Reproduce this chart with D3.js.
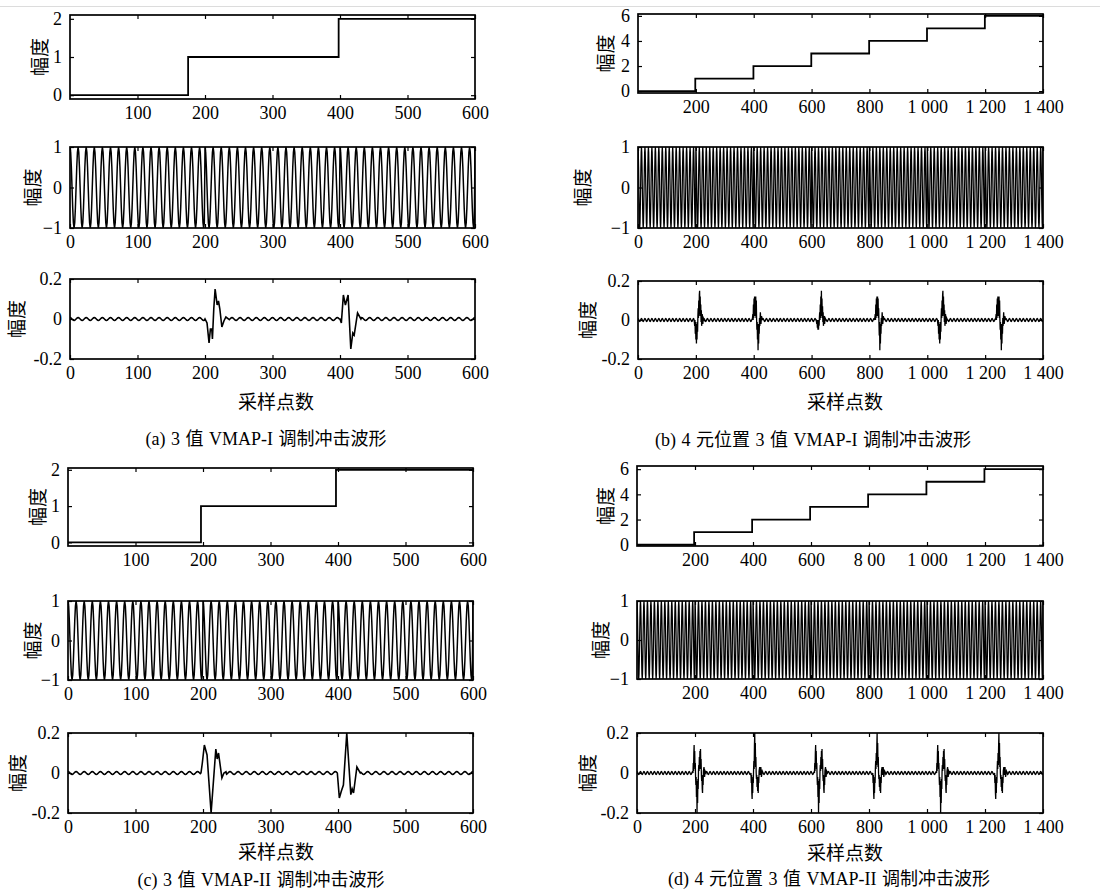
<!DOCTYPE html>
<html>
<head>
<meta charset="utf-8">
<script src="https://cdn.jsdelivr.net/npm/d3@7"></script>
<style>
  body { margin: 0; background: #fff; }
  svg { display: block; }
</style>
</head>
<body>
<svg id="chart" width="1100" height="892"></svg>
<script>
// ---- tick values / labels ----
var xTicks600 = [0, 100, 200, 300, 400, 500, 600];
var xLabels600 = ["0", "100", "200", "300", "400", "500", "600"];
var xTicks1400 = [0, 200, 400, 600, 800, 1000, 1200, 1400];
var xLabels1400 = ["0", "200", "400", "600", "800", "1 000", "1 200", "1 400"];
var xLabels1400d = ["0", "200", "400", "600", "8 00", "1 000", "1 200", "1 400"]; // printed this way in (d)
var yTicksStep3 = [0, 1, 2];
var yTicksStep7 = [0, 2, 4, 6];
var yTicksCarrier = [-1, 0, 1];
var yLabelsCarrier = ["\u22121", "0", "1"];
var yTicksImpulse = [-0.2, 0, 0.2];
var yLabelsImpulse = ["-0.2", "0", "0.2"];

// ---- row 1: symbol levels ----
var stepEdgesA = [0, 175, 398, 600], stepLevelsA = [0, 1, 2];
var stepEdgesB = [0, 198, 399, 599, 799, 999, 1199, 1400], stepLevelsB = [0, 1, 2, 3, 4, 5, 6];
var stepEdgesC = [0, 197, 397, 600], stepLevelsC = [0, 1, 2];
var stepEdgesD = [0, 197, 397, 597, 797, 998, 1198, 1400], stepLevelsD = [0, 1, 2, 3, 4, 5, 6];

// ---- row 2: carrier, one period, restarted at each symbol ----
var carrierCycle = [1, 0.87, 0.5, 0, -0.5, -0.87, -1, -0.87, -0.5, 0, 0.5, 0.87];
var symbolEdges600 = [0, 200, 400, 600];
var symbolEdges1400 = [0, 200, 400, 600, 800, 1000, 1200, 1400];

// ---- row 3: impulse output, small ripple + bursts [sample, value] ----
var rippleAmp = 0.007;
var burstsA = [
  [[200, 0], [203, -0.02], [206, -0.12], [208, -0.05], [210, -0.05], [211, -0.1], [213, 0.05], [215, 0.15], [218, 0.07], [220, 0.09], [222, 0.05], [225, -0.04], [228, -0.01], [231, 0.01], [235, 0]],
  [[400, 0], [402, -0.02], [405, 0.12], [408, 0.07], [412, 0.12], [416, -0.15], [419, -0.07], [421, -0.08], [426, 0.03], [431, 0]]
];
var burstsB = [
  [[194, 0], [196, -0.03], [197, 0], [198, -0.07], [199, -0.01], [200, -0.1], [201, -0.02], [202, -0.12], [203, -0.03], [204, -0.1], [205, -0.01], [206, -0.06], [207, 0.02], [208, 0.06], [209, 0.01], [210, 0.1], [211, 0.02], [212, 0.13], [213, 0.15], [214, 0.03], [215, 0.12], [216, 0.02], [217, 0.08], [218, -0.01], [219, 0.05], [220, -0.03], [222, 0.03], [224, -0.02], [226, 0.01], [229, 0]],
  [[395, 0], [397, 0.03], [398, 0], [399, 0.08], [400, 0.01], [401, 0.11], [402, 0.02], [403, 0.12], [404, 0.03], [405, 0.12], [406, 0.02], [407, 0.12], [408, 0.01], [409, 0.1], [410, 0], [411, -0.05], [412, -0.01], [413, -0.1], [414, -0.02], [415, -0.155], [416, -0.03], [417, -0.12], [418, -0.02], [419, -0.07], [420, 0.01], [421, -0.03], [423, 0.04], [425, -0.02], [427, 0.02], [430, 0]],
  [[616, 0], [618, -0.02], [619, 0], [620, -0.04], [621, 0], [622, -0.05], [623, -0.01], [624, -0.05], [625, 0], [626, -0.03], [627, 0.01], [628, 0.04], [629, 0], [630, 0.08], [631, 0.01], [632, 0.12], [633, 0.02], [634, 0.15], [635, 0.02], [636, 0.11], [637, 0.01], [638, 0.07], [639, -0.01], [640, 0.04], [641, -0.03], [643, 0.02], [645, -0.02], [647, 0.01], [650, 0]],
  [[818, 0], [820, 0.03], [821, 0], [822, 0.08], [823, 0.01], [824, 0.11], [825, 0.02], [826, 0.12], [827, 0.03], [828, 0.12], [829, 0.02], [830, 0.11], [831, 0.01], [832, 0.06], [833, -0.02], [834, -0.08], [835, -0.01], [836, -0.155], [837, -0.03], [838, -0.12], [839, -0.02], [840, -0.07], [841, 0.01], [842, -0.03], [844, 0.04], [846, -0.02], [848, 0.02], [851, 0]],
  [[1035, 0], [1037, -0.03], [1038, 0], [1039, -0.07], [1040, -0.01], [1041, -0.1], [1042, -0.02], [1043, -0.12], [1044, -0.03], [1045, -0.1], [1046, -0.01], [1047, -0.06], [1048, 0.02], [1049, 0.06], [1050, 0.01], [1051, 0.1], [1052, 0.02], [1053, 0.13], [1054, 0.15], [1055, 0.03], [1056, 0.12], [1057, 0.02], [1058, 0.08], [1059, -0.01], [1060, 0.05], [1061, -0.03], [1063, 0.03], [1065, -0.02], [1067, 0.01], [1070, 0]],
  [[1236, 0], [1238, 0.03], [1239, 0], [1240, 0.08], [1241, 0.01], [1242, 0.11], [1243, 0.02], [1244, 0.12], [1245, 0.03], [1246, 0.12], [1247, 0.02], [1248, 0.12], [1249, 0.01], [1250, 0.1], [1251, 0], [1252, -0.05], [1253, -0.01], [1254, -0.1], [1255, -0.02], [1256, -0.155], [1257, -0.03], [1258, -0.12], [1259, -0.02], [1260, -0.07], [1261, 0.01], [1262, -0.03], [1264, 0.04], [1266, -0.02], [1268, 0.02], [1271, 0]]
];
var burstsC = [
  [[197, 0], [199, 0.05], [202, 0.14], [206, 0.09], [212, -0.2], [219, 0.12], [221, 0.07], [223, 0.1], [228, -0.025], [231, 0], [234, 0.006]],
  [[399, 0], [402, -0.125], [405, -0.09], [408, -0.06], [413, 0.2], [419, -0.108], [421, -0.08], [423, -0.1], [428, 0.03], [433, 0]]
];
var burstsD = [
  [[193, 0], [194, 0.05], [195, 0.01], [196, 0.1], [197, 0.14], [198, 0.03], [199, 0.11], [200, 0.02], [201, 0.05], [202, -0.02], [203, -0.06], [204, -0.02], [205, -0.12], [206, -0.04], [207, -0.2], [208, -0.06], [209, -0.15], [210, -0.03], [211, -0.08], [212, 0.01], [213, 0.04], [214, 0.01], [215, 0.08], [216, 0.02], [217, 0.11], [218, 0.03], [219, 0.12], [220, 0.02], [221, 0.07], [222, -0.01], [223, -0.04], [224, -0.01], [225, -0.08], [226, -0.1], [227, -0.02], [228, -0.06], [229, 0.01], [231, 0.03], [233, -0.02], [235, 0.01], [238, 0]],
  [[393, 0], [394, -0.05], [395, -0.01], [396, -0.1], [397, -0.13], [398, -0.03], [399, -0.1], [400, -0.02], [401, -0.05], [402, 0.02], [403, 0.06], [404, 0.02], [405, 0.14], [406, 0.2], [407, 0.05], [408, 0.15], [409, 0.03], [410, 0.08], [411, 0], [412, -0.03], [413, -0.01], [414, -0.07], [415, -0.02], [416, -0.09], [417, -0.03], [418, -0.1], [419, -0.02], [420, -0.05], [421, 0.01], [423, 0.03], [425, -0.01], [427, 0.03], [429, -0.02], [432, 0.01], [435, 0]],
  [[612, 0], [613, 0.05], [614, 0.01], [615, 0.1], [616, 0.14], [617, 0.03], [618, 0.11], [619, 0.02], [620, 0.05], [621, -0.02], [622, -0.06], [623, -0.02], [624, -0.12], [625, -0.04], [626, -0.2], [627, -0.06], [628, -0.15], [629, -0.03], [630, -0.08], [631, 0.01], [632, 0.04], [633, 0.01], [634, 0.08], [635, 0.02], [636, 0.11], [637, 0.03], [638, 0.12], [639, 0.02], [640, 0.07], [641, -0.01], [642, -0.04], [643, -0.01], [644, -0.08], [645, -0.1], [646, -0.02], [647, -0.06], [648, 0.01], [650, 0.03], [652, -0.02], [654, 0.01], [657, 0]],
  [[813, 0], [814, -0.05], [815, -0.01], [816, -0.1], [817, -0.13], [818, -0.03], [819, -0.1], [820, -0.02], [821, -0.05], [822, 0.02], [823, 0.06], [824, 0.02], [825, 0.1], [826, 0.04], [827, 0.14], [828, 0.2], [829, 0.05], [830, 0.15], [831, 0.03], [832, 0.08], [833, 0], [834, -0.03], [835, -0.01], [836, -0.07], [837, -0.02], [838, -0.09], [839, -0.03], [840, -0.1], [841, -0.02], [842, -0.05], [843, 0.01], [845, 0.03], [847, -0.01], [849, 0.03], [851, -0.02], [854, 0.01], [857, 0]],
  [[1033, 0], [1034, 0.05], [1035, 0.01], [1036, 0.1], [1037, 0.14], [1038, 0.03], [1039, 0.11], [1040, 0.02], [1041, 0.05], [1042, -0.02], [1043, -0.06], [1044, -0.02], [1045, -0.12], [1046, -0.04], [1047, -0.2], [1048, -0.06], [1049, -0.15], [1050, -0.03], [1051, -0.08], [1052, 0.01], [1053, 0.04], [1054, 0.01], [1055, 0.08], [1056, 0.02], [1057, 0.11], [1058, 0.03], [1059, 0.12], [1060, 0.02], [1061, 0.07], [1062, -0.01], [1063, -0.04], [1064, -0.01], [1065, -0.08], [1066, -0.1], [1067, -0.02], [1068, -0.06], [1069, 0.01], [1071, 0.03], [1073, -0.02], [1075, 0.01], [1078, 0]],
  [[1233, 0], [1234, -0.05], [1235, -0.01], [1236, -0.1], [1237, -0.13], [1238, -0.03], [1239, -0.1], [1240, -0.02], [1241, -0.05], [1242, 0.02], [1243, 0.06], [1244, 0.02], [1245, 0.1], [1246, 0.04], [1247, 0.14], [1248, 0.2], [1249, 0.05], [1250, 0.15], [1251, 0.03], [1252, 0.08], [1253, 0], [1254, -0.03], [1255, -0.01], [1256, -0.07], [1257, -0.02], [1258, -0.09], [1259, -0.03], [1260, -0.1], [1261, -0.02], [1262, -0.05], [1263, 0.01], [1265, 0.03], [1267, -0.01], [1269, 0.03], [1271, -0.02], [1274, 0.01], [1277, 0]]
];

// ---- texts ----
var yTitle = "幅度";
var xTitle = "采样点数";
var captions = {
  a: "(a) 3 值 VMAP-I 调制冲击波形",
  b: "(b) 4 元位置 3 值 VMAP-I 调制冲击波形",
  c: "(c) 3 值 VMAP-II 调制冲击波形",
  d: "(d) 4 元位置 3 值 VMAP-II 调制冲击波形"
};

// Layout, measured off the page (pixels)
var panels = [
  {key: "a", x0: 70, x1: 475, n: 600, rows: [[15, 99], [147, 228], [279, 359]], stepDomain: [-0.1, 2.1],
   yTitleX: [38, 31, 15], captionPos: [266, 439], xTitlePos: [276, 400]},
  {key: "b", x0: 638, x1: 1043, n: 1400, rows: [[14, 93], [147, 228], [281, 359]], stepDomain: [-0.15, 6.15],
   yTitleX: [604, 581, 586], captionPos: [813, 440], xTitlePos: [845, 400]},
  {key: "c", x0: 68, x1: 473, n: 600, rows: [[468, 546], [601, 680], [733, 813]], stepDomain: [-0.1, 2.05],
   yTitleX: [36, 31, 16], captionPos: [261, 880], xTitlePos: [276, 850]},
  {key: "d", x0: 637, x1: 1043, n: 1400, rows: [[466, 546], [601, 679], [733, 813]], stepDomain: [-0.1, 6.25],
   yTitleX: [604, 599, 586], captionPos: [829, 879], xTitlePos: [845, 851]}
];

var panelData = {
  a: {edges: stepEdgesA, levels: stepLevelsA, symbols: symbolEdges600, bursts: burstsA, yStep: yTicksStep3,
      xt: xTicks600, xl: [xLabels600, xLabels600, xLabels600], firstTick: [1, 0, 0]},
  b: {edges: stepEdgesB, levels: stepLevelsB, symbols: symbolEdges1400, bursts: burstsB, yStep: yTicksStep7,
      xt: xTicks1400, xl: [xLabels1400, xLabels1400, xLabels1400], firstTick: [1, 0, 0]},
  c: {edges: stepEdgesC, levels: stepLevelsC, symbols: symbolEdges600, bursts: burstsC, yStep: yTicksStep3,
      xt: xTicks600, xl: [xLabels600, xLabels600, xLabels600], firstTick: [1, 0, 0]},
  d: {edges: stepEdgesD, levels: stepLevelsD, symbols: symbolEdges1400, bursts: burstsD, yStep: yTicksStep7,
      xt: xTicks1400, xl: [xLabels1400d, xLabels1400, xLabels1400], firstTick: [1, 1, 0]}
};

var serif = '"Liberation Serif", "Times New Roman", serif';
var cjk = '"Noto Sans CJK SC", "Noto Sans CJK JP", sans-serif';

var svg = d3.select("#chart");
var clipCount = 0;

// faint rule along the top of the page
svg.append("line").attr("x1", 0).attr("x2", 1100).attr("y1", 6.5).attr("y2", 6.5)
  .attr("stroke", "#dcdcdc").attr("stroke-width", 1);

function stepSeries(edges, levels) {
  var pts = levels.map(function(v, i) { return [edges[i], v]; });
  pts.push([edges[edges.length - 1], levels[levels.length - 1]]);
  return pts;
}

function carrierSeries(symbols) {
  var pts = [], m = carrierCycle.length;
  for (var i = 0; i < symbols.length - 1; i++) {
    for (var k = symbols[i]; k < symbols[i + 1]; k++) {
      pts.push([k, carrierCycle[(k - symbols[i]) % m]]);
    }
  }
  pts.push([symbols[symbols.length - 1], carrierCycle[0]]);
  return pts;
}

function impulseSeries(n, bursts) {
  var pts = [], k = 0, m = carrierCycle.length;
  bursts.forEach(function(b) {
    for (; k < b[0][0]; k++) pts.push([k, rippleAmp * carrierCycle[k % m]]);
    b.forEach(function(d) { pts.push(d); });
    k = Math.floor(b[b.length - 1][0]) + 1;
  });
  for (; k <= n; k++) pts.push([k, rippleAmp * carrierCycle[k % m]]);
  return pts;
}

function subplot(p) {
  var x = d3.scaleLinear().domain([0, p.n]).range([p.x0, p.x1]);
  var y = d3.scaleLinear().domain(p.yDomain).range([p.y1, p.y0]);
  var g = svg.append("g");

  var clipId = "clip" + (clipCount++);
  g.append("clipPath").attr("id", clipId).append("rect")
    .attr("x", p.x0).attr("y", p.y0 - 0.5)
    .attr("width", p.x1 - p.x0).attr("height", p.y1 - p.y0 + 1);

  g.append("path")
    .datum(p.points)
    .attr("clip-path", "url(#" + clipId + ")")
    .attr("fill", "none")
    .attr("stroke", "#000")
    .attr("stroke-width", p.lw)
    .attr("stroke-linejoin", "miter")
    .attr("d", d3.line().x(function(d) { return x(d[0]); }).y(function(d) { return y(d[1]); }).curve(p.curve));

  var xFmt = function(v) { var i = p.xTicks.indexOf(v); return i < 0 ? "" : p.xLabels[i]; };
  var yFmt = function(v) { var i = p.yTicks.indexOf(v); return i < 0 ? "" : p.yLabels[i]; };
  var shownX = p.xTicks.slice(p.firstTick);

  var axes = [
    g.append("g").attr("transform", "translate(0," + p.y1 + ")")
      .call(d3.axisBottom(x).tickValues(shownX).tickSizeInner(-4).tickSizeOuter(0).tickPadding(7).tickFormat(xFmt)),
    g.append("g").attr("transform", "translate(0," + p.y0 + ")")
      .call(d3.axisTop(x).tickValues(shownX).tickSizeInner(-4).tickSizeOuter(0).tickFormat("")),
    g.append("g").attr("transform", "translate(" + p.x0 + ",0)")
      .call(d3.axisLeft(y).tickValues(p.yTicks).tickSizeInner(-4).tickSizeOuter(0).tickPadding(8).tickFormat(yFmt)),
    g.append("g").attr("transform", "translate(" + p.x1 + ",0)")
      .call(d3.axisRight(y).tickValues(p.yTicks).tickSizeInner(-4).tickSizeOuter(0).tickFormat(""))
  ];
  axes.forEach(function(a) {
    a.select(".domain").remove();
    a.selectAll(".tick line").attr("stroke", "#000").attr("stroke-width", 1.2);
    a.selectAll(".tick text").attr("fill", "#000").attr("font-family", serif).attr("font-size", 18);
  });

  g.append("rect")
    .attr("x", p.x0).attr("y", p.y0)
    .attr("width", p.x1 - p.x0).attr("height", p.y1 - p.y0)
    .attr("fill", "none").attr("stroke", "#000").attr("stroke-width", 1.7);

  g.append("text")
    .attr("transform", "translate(" + p.yTitleX + "," + ((p.y0 + p.y1) / 2) + ") rotate(-90)")
    .attr("text-anchor", "middle")
    .attr("dominant-baseline", "central")
    .attr("font-family", cjk)
    .attr("font-size", 19)
    .attr("fill", "#000")
    .text(yTitle);
}

panels.forEach(function(pn) {
  var dat = panelData[pn.key];
  var right = pn.n > 600;
  var rowSpecs = [
    {points: stepSeries(dat.edges, dat.levels), yDomain: pn.stepDomain, curve: d3.curveStepAfter, lw: 1.8,
     yTicks: dat.yStep, yLabels: dat.yStep.map(String)},
    {points: carrierSeries(dat.symbols), yDomain: [-1, 1], curve: d3.curveLinear, lw: right ? 1.25 : 1.5,
     yTicks: yTicksCarrier, yLabels: yLabelsCarrier},
    {points: impulseSeries(pn.n, dat.bursts), yDomain: [-0.2, 0.2], curve: d3.curveLinear, lw: right ? 1.3 : 1.6,
     yTicks: yTicksImpulse, yLabels: yLabelsImpulse}
  ];
  rowSpecs.forEach(function(r, i) {
    subplot({
      x0: pn.x0, x1: pn.x1, y0: pn.rows[i][0], y1: pn.rows[i][1], n: pn.n,
      yDomain: r.yDomain, points: r.points, curve: r.curve, lw: r.lw,
      xTicks: dat.xt, xLabels: dat.xl[i], firstTick: dat.firstTick[i],
      yTicks: r.yTicks, yLabels: r.yLabels, yTitleX: pn.yTitleX[i]
    });
  });

  svg.append("text")
    .attr("x", pn.xTitlePos[0]).attr("y", pn.xTitlePos[1])
    .attr("text-anchor", "middle").attr("dominant-baseline", "central")
    .attr("font-family", cjk).attr("font-size", 19).attr("fill", "#000")
    .text(xTitle);

  svg.append("text")
    .attr("x", pn.captionPos[0]).attr("y", pn.captionPos[1])
    .attr("text-anchor", "middle").attr("dominant-baseline", "central")
    .attr("font-family", '"Liberation Serif", "Noto Sans CJK SC", serif')
    .attr("font-size", 18).attr("word-spacing", "1px").attr("fill", "#000")
    .text(captions[pn.key]);
});
</script>
</body>
</html>
